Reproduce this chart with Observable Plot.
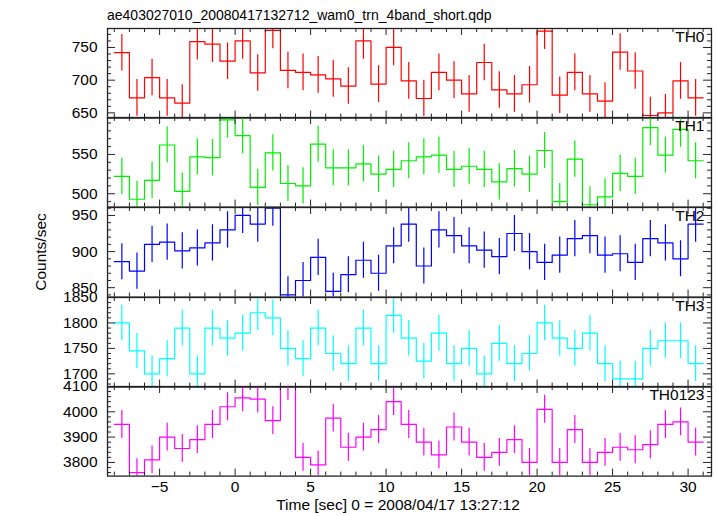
<!DOCTYPE html>
<html><head><meta charset="utf-8">
<script src="https://cdn.jsdelivr.net/npm/d3@7"></script>
<script src="https://cdn.jsdelivr.net/npm/@observablehq/plot@0.6"></script>
<style>
body{margin:0;background:#fff;font-family:"Liberation Sans",Arial,sans-serif;}
#wrap{position:relative;width:717px;height:516px;overflow:hidden;background:#fff}
.panel{position:absolute;left:0}
.txt{position:absolute;font-size:15.5px;color:#000;white-space:nowrap;line-height:1}
</style></head><body><div id="wrap"></div>
<script>
// time bin starts (sec); each bin is 1 s wide
const timeBins = [-8,-7,-6,-5,-4,-3,-2,-1,0,1,2,3,4,5,6,7,8,9,10,11,12,13,14,15,16,17,18,19,20,21,22,23,24,25,26,27,28,29,30];

const th0 = [742,673,704,673,665,759,755,729,760,711,776,715,712,708,702,691,760,694,750,699,672,712,700,679,727,685,679,693,775,677,712,679,668,743,714,646,650,699,673];
const th1 = [522,493,517,562,503,547,546,594,574,508,552,513,510,563,533,533,538,525,531,542,547,549,531,535,531,515,532,525,555,490,544,486,496,526,522,584,549,582,542];
const th2 = [886,873,910,913,901,905,912,930,950,938,960,840,860,892,845,868,888,870,908,938,880,930,922,908,902,893,925,900,885,895,918,922,895,897,885,918,912,890,938];
const th3 = [1800,1745,1700,1730,1790,1700,1790,1770,1780,1820,1810,1750,1730,1790,1740,1720,1790,1720,1815,1770,1725,1780,1720,1750,1700,1760,1720,1740,1800,1770,1750,1780,1720,1690,1690,1750,1765,1765,1720];
const th0123 = [3950,3760,3810,3900,3855,3890,3950,4020,4055,4050,3965,4100,3820,3790,3975,3860,3900,3930,4040,3950,3880,3830,3940,3880,3820,3840,3890,3800,4010,3800,3930,3800,3840,3860,3850,3870,3950,3960,3880];

const panelNames = ["TH0","TH1","TH2","TH3","TH0123"];
const panelColors = ["#ff0000","#00ee00","#0000ff","#00ffff","#ff00ff"];
const panelErrors = [28, 23, 25, 35, 55];
const panelDomains = [[642,779],[483,597],[837,961],[1674,1850],[3746,4100]];
const yMajorTicks = [[650,700,750],[500,550],[850,900,950],[1700,1750,1800,1850],[3800,3900,4000,4100]];
const yMinorStep = [10,10,10,10,20];
const xMajorTicks = [-5,0,5,10,15,20,25,30];
const xMinorTicks = [-8,-7,-6,-4,-3,-2,-1,1,2,3,4,6,7,8,9,11,12,13,14,16,17,18,19,21,22,23,24,26,27,28,29,31];
const xDomain = [-8.45, 31.55];

const title = "ae403027010_20080417132712_wam0_trn_4band_short.qdp";
const xLabel = "Time [sec] 0 = 2008/04/17 13:27:12";
const yLabel = "Counts/sec";

const wrap = document.getElementById("wrap");
const series = [th0, th1, th2, th3, th0123];
const W = 717, ML = 107, MR = 6, top0 = 27.7, innerH = 89.6;
const innerW = W - ML - MR;
const font = '"Liberation Sans", Arial, sans-serif';

series.forEach((values, p) => {
  const last = p === series.length - 1;
  const mt = 2, mb = last ? 40 : 2;
  const dom = panelDomains[p];
  const err = panelErrors[p];
  const steps = timeBins.map((t, i) => ({t, v: values[i]}));
  steps.push({t: timeBins[timeBins.length - 1] + 1, v: values[values.length - 1]});
  const bars = timeBins.map((t, i) => ({t: t + 0.5, lo: values[i] - err, hi: values[i] + err}));
  const minorY = d3.range(Math.ceil(dom[0] / yMinorStep[p]) * yMinorStep[p], dom[1], yMinorStep[p])
    .filter(v => !yMajorTicks[p].includes(v));
  const color = panelColors[p];
  const marks = [
    Plot.ruleX(bars, {x: "t", y1: "lo", y2: "hi", stroke: color, strokeWidth: 1.2, clip: true}),
    Plot.line(steps, {x: "t", y: "v", curve: "step-after", stroke: color, strokeWidth: 1.2, clip: true}),
    Plot.tickX(xMajorTicks, {x: d => d, insetBottom: innerH - 7, stroke: "#222"}),
    Plot.tickX(xMajorTicks, {x: d => d, insetTop: innerH - 7, stroke: "#222"}),
    Plot.tickX(xMinorTicks, {x: d => d, insetBottom: innerH - 4, stroke: "#222"}),
    Plot.tickX(xMinorTicks, {x: d => d, insetTop: innerH - 4, stroke: "#222"}),
    Plot.tickY(yMajorTicks[p], {y: d => d, insetRight: innerW - 8, stroke: "#222"}),
    Plot.tickY(yMajorTicks[p], {y: d => d, insetLeft: innerW - 8, stroke: "#222"}),
    Plot.tickY(minorY, {y: d => d, insetRight: innerW - 4, stroke: "#222"}),
    Plot.tickY(minorY, {y: d => d, insetLeft: innerW - 4, stroke: "#222"}),
    Plot.axisY(yMajorTicks[p], {anchor: "left", tickSize: 0, tickPadding: 10, fontSize: 15.5, label: null, tickFormat: d => String(d)}),
    Plot.frame({stroke: "#222", strokeWidth: 1.3}),
    Plot.text([panelNames[p]], {text: d => d, frameAnchor: "top-right", lineAnchor: "top", textAnchor: "end", dx: -7, dy: 2, fontSize: 15.5, fill: "#000"})
  ];
  if (last) {
    marks.push(Plot.axisX(xMajorTicks, {anchor: "bottom", tickSize: 0, tickPadding: 5, fontSize: 15.5, label: null,
      tickFormat: d => d < 0 ? "\u2212" + Math.abs(d) : String(d)}));
  }
  const svg = Plot.plot({
    width: W, height: innerH + mt + mb,
    marginLeft: ML, marginRight: MR, marginTop: mt, marginBottom: mb,
    x: {domain: xDomain, axis: null, label: null},
    y: {domain: dom, axis: null, label: null},
    style: {fontFamily: font, fontSize: "15.5px", overflow: "visible", background: "transparent", color: "#000"},
    marks
  });
  svg.classList.add("panel");
  svg.style.top = (top0 + p * innerH - mt) + "px";
  wrap.appendChild(svg);
});

function addText(str, css) {
  const d = document.createElement("div");
  d.className = "txt";
  d.textContent = str;
  Object.assign(d.style, css);
  wrap.appendChild(d);
  return d;
}
addText(title, {left: "107px", top: "7px", fontSize: "14px", top: "8px"});
addText(xLabel, {left: "398px", top: "497px", transform: "translateX(-50%)"});
addText(yLabel, {left: "41px", top: "252px", transform: "translate(-50%,-50%) rotate(-90deg)"});
</script></body></html>
